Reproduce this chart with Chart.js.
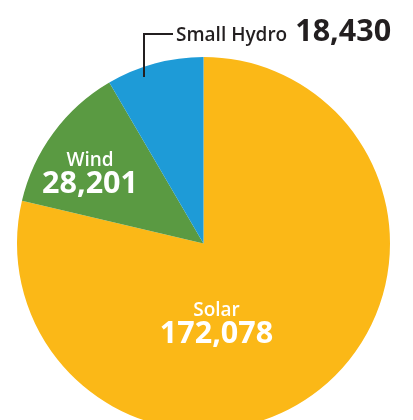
<!DOCTYPE html>
<html>
<head>
<meta charset="utf-8">
<script src="https://cdn.jsdelivr.net/npm/chart.js@4/dist/chart.umd.min.js"></script>
<style>
  html, body { margin: 0; padding: 0; background: #fff; overflow: hidden; }
  #wrap { width: 413px; height: 440px; }
</style>
</head>
<body>
<div id="wrap"><canvas id="myChart"></canvas></div>
<script>
const sources = ['Solar', 'Wind', 'Small Hydro'];
const capacity = [172078, 28201, 18430];
const sliceColors = ['#FBB817', '#5A9A42', '#1E9BD7'];

// label placement relative to pie centre (px)
const labelSpots = {
    'Solar': { dx: 13, dy: 72.5, inside: true },
    'Wind': { dx: -113.5, dy: -77.5, inside: true },
    'Small Hydro': { dx: -27.5, dy: -202.5, inside: false }
};

const fmt = n => n.toLocaleString('en-US');

const labelPlugin = {
    id: 'sliceLabels',
    afterDraw(chart) {
        const c = chart.ctx;
        const arcs = chart.getDatasetMeta(0).data;
        const cx = arcs[0].x, cy = arcs[0].y;
        c.save();
        sources.forEach((name, i) => {
            const spot = labelSpots[name];
            const x = cx + spot.dx, y = cy + spot.dy;
            if (spot.inside) {
                c.fillStyle = '#fff';
                c.textAlign = 'center';
                c.textBaseline = 'alphabetic';
                c.font = '600 19px "Open Sans"';
                c.fillText(name, x, y);
                c.font = 'bold 30.5px "Open Sans"';
                c.fillText(fmt(capacity[i]), x, y + 27);
            } else {
                // leader line
                c.strokeStyle = '#231F20';
                c.lineWidth = 2;
                c.beginPath();
                c.moveTo(cx - 59.5, cy - 166.5);
                c.lineTo(cx - 59.5, cy - 209.5);
                c.lineTo(cx - 30.5, cy - 209.5);
                c.stroke();
                c.fillStyle = '#231F20';
                c.textAlign = 'left';
                c.textBaseline = 'alphabetic';
                c.font = '600 19px "Open Sans"';
                c.fillText(name, x, y);
                const w = c.measureText(name).width;
                c.font = 'bold 30.5px "Open Sans"';
                c.fillText(fmt(capacity[i]), x + w + 8, y);
            }
        });
        c.restore();
    }
};

const ctx = document.getElementById('myChart').getContext('2d');
const myPieChart = new Chart(ctx, {
    type: 'pie',
    data: {
        labels: sources,
        datasets: [{ data: capacity, backgroundColor: sliceColors, borderWidth: 0 }]
    },
    options: {
        responsive: true,
        maintainAspectRatio: false,
        animation: false,
        layout: { padding: { left: 17, right: 23, top: 57, bottom: 10 } },
        plugins: { legend: { display: false }, tooltip: { enabled: false } }
    },
    plugins: [labelPlugin]
});
</script>
</body>
</html>
